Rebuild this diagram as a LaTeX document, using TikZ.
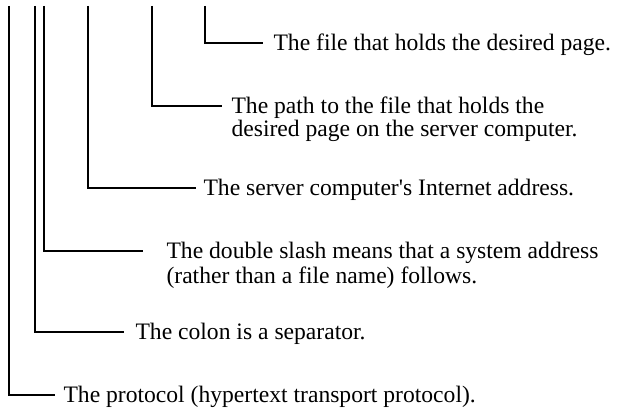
\documentclass[tikz,border=0pt]{standalone}
\usepackage{fontspec}
\setmainfont{Liberation Serif}

\begin{document}
\begin{tikzpicture}[x=1pt,y=-1pt,
    line width=1.1pt,
    lbl/.style={anchor=west,inner sep=0pt,text height=15pt,text depth=0pt,
      font=\fontsize{23.6}{26}\selectfont}]
  \useasboundingbox (0,0) rectangle (620,409);
  % upper ends of the leader lines
  \foreach \n/\x in {proto/9, colon/35, dslash/44, server/88, path/152, file/205}{
    \coordinate (top-\n) at (\x,6);
  }
  % the labels, one per part of the address
  \node[lbl] (file) at (273,43) {The file that holds the desired page.};
  \node[lbl] (path) at (231,106) {The path to the file that holds the};
  \node[lbl,anchor=base west] (path2) at ([yshift=-23pt]path.base west)
    {desired page on the server computer.};
  \node[lbl] (server) at (203,188) {The server computer\textquotesingle s Internet address.};
  \node[lbl] (dslash) at (166,251) {The double slash means that a system address};
  \node[lbl,anchor=base west] (dslash2) at ([yshift=-25pt]dslash.base west)
    {(rather than a file name) follows.};
  \node[lbl] (colon) at (135,332) {The colon is a separator.};
  \node[lbl] (proto) at (63,395) {The protocol (hypertext transport protocol).};
  % leader lines
  \foreach \n/\g in {proto/8, colon/11, dslash/23, server/7, path/9, file/10}{
    \draw (top-\n) |- ([xshift=-\g pt]\n.west);
  }
\end{tikzpicture}
\end{document}
